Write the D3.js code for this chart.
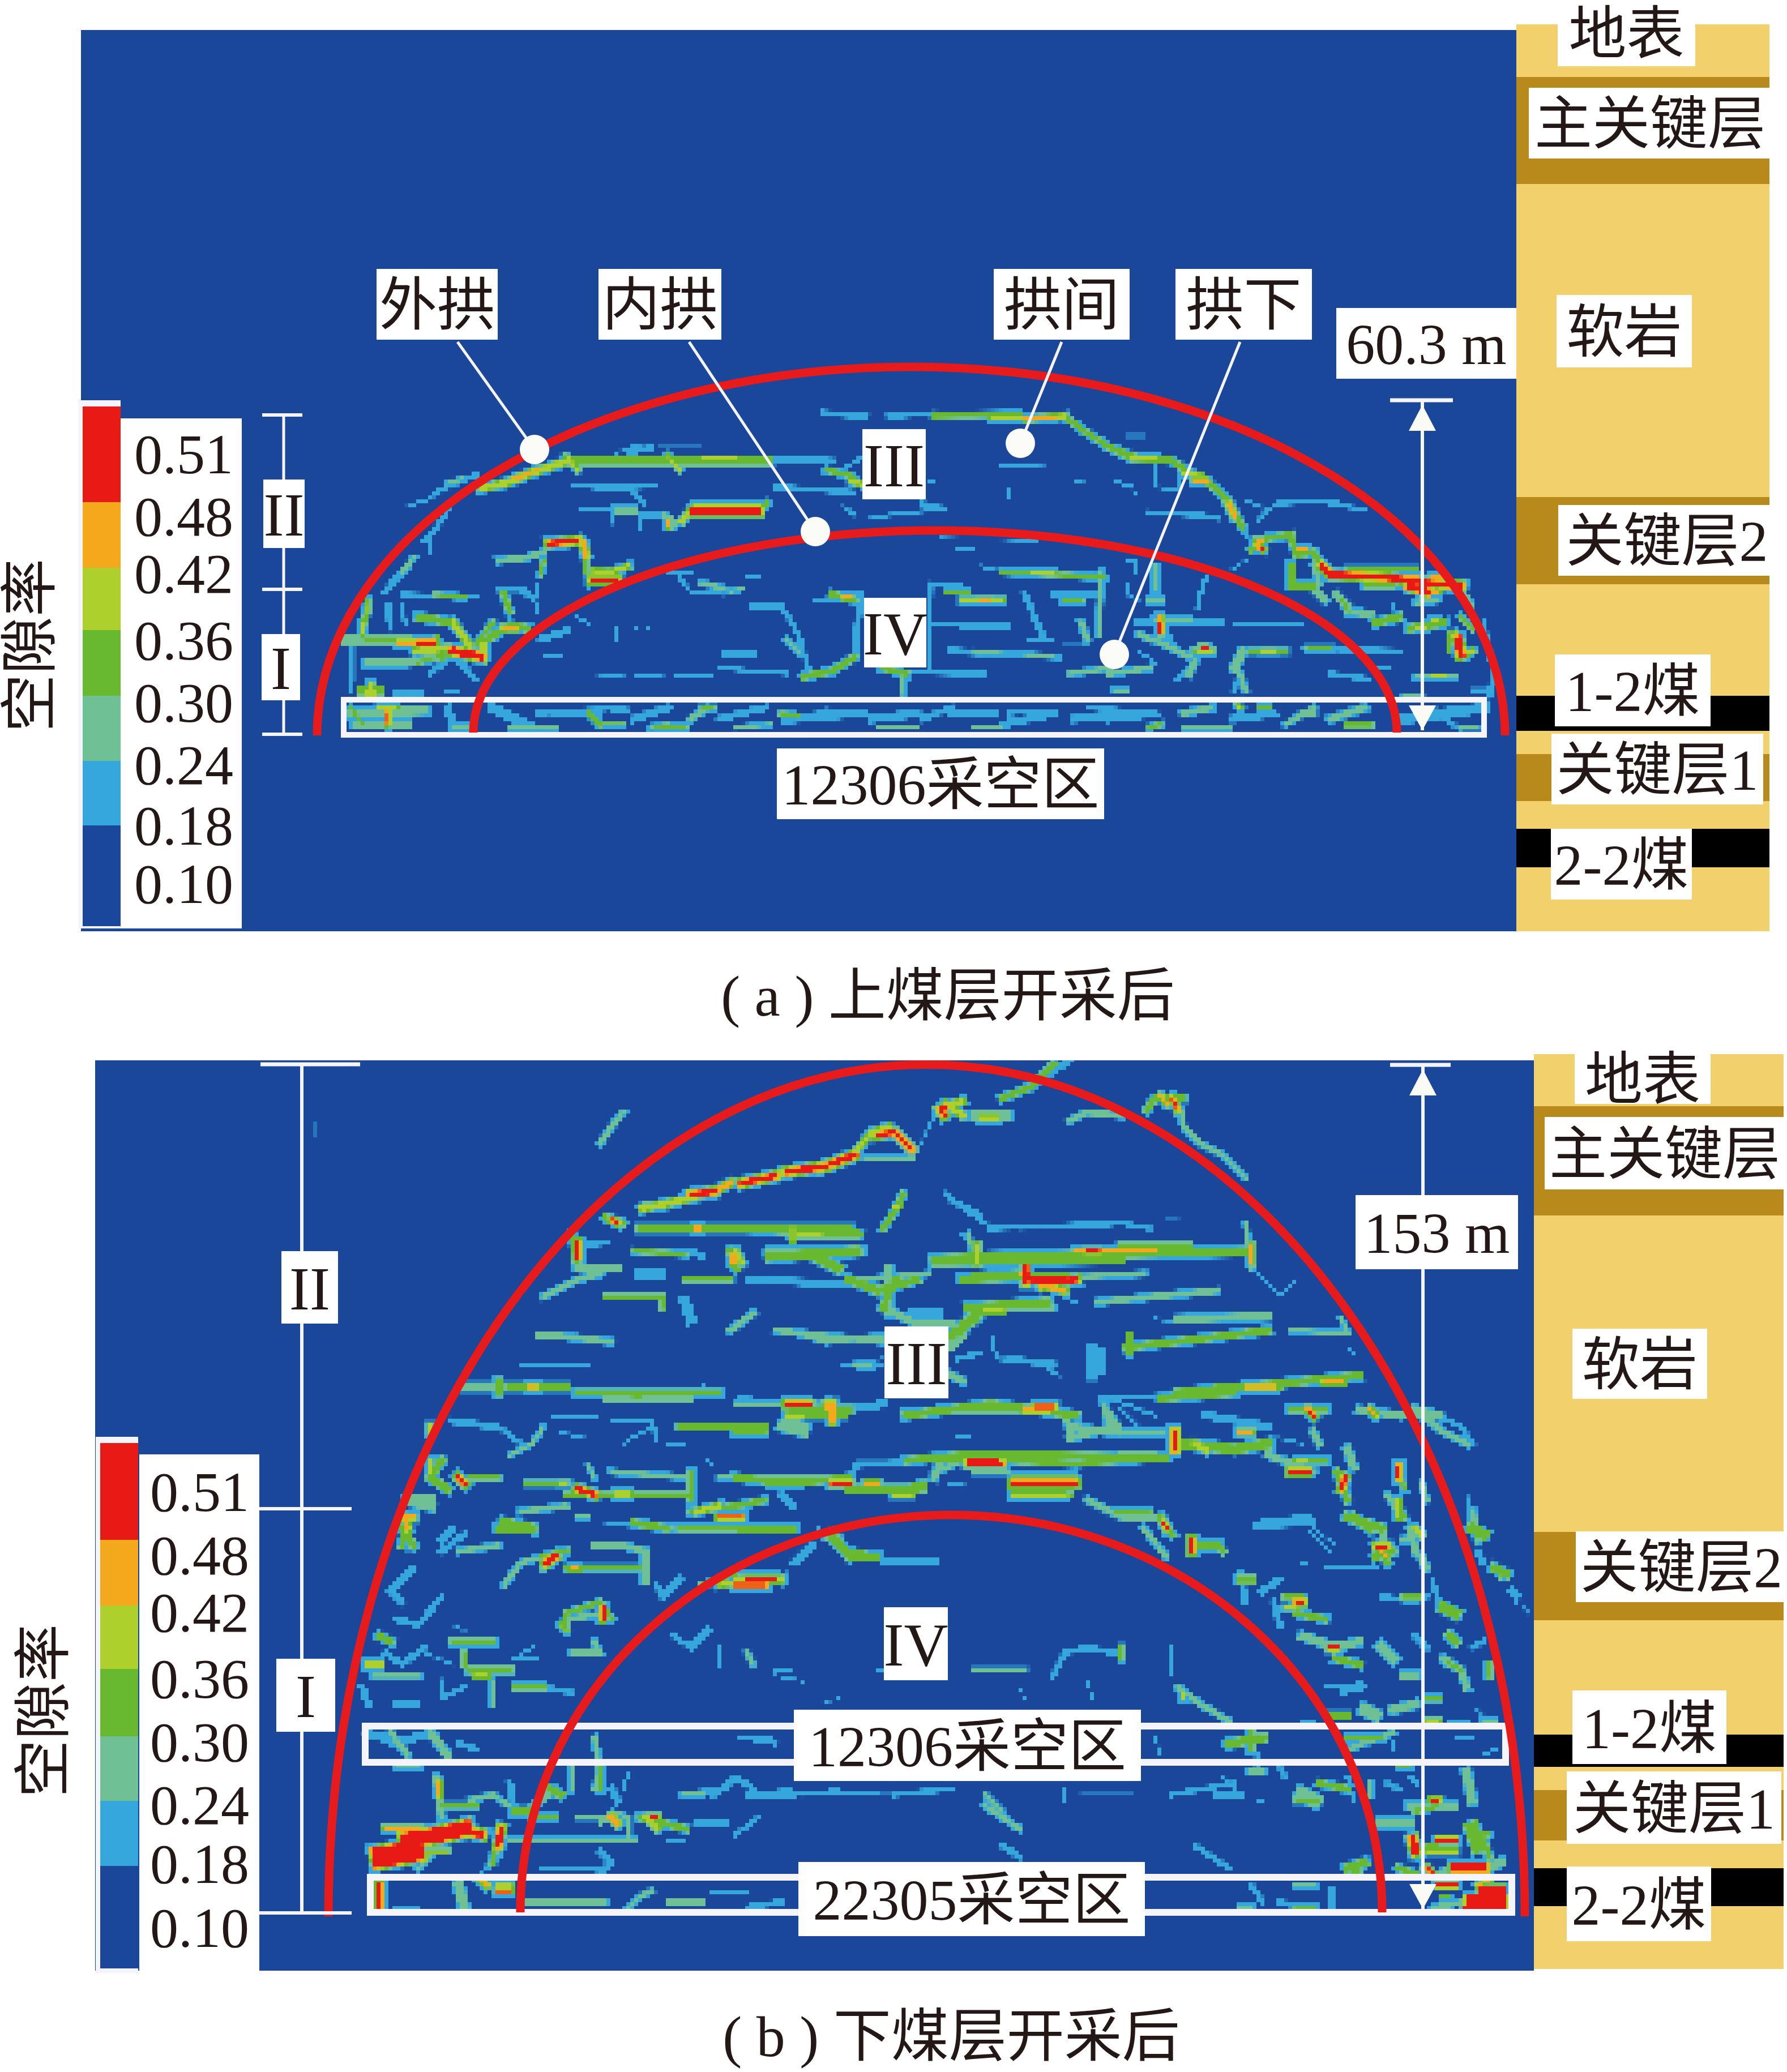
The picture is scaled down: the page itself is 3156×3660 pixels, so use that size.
<!DOCTYPE html>
<html>
<head>
<meta charset="utf-8">
<script src="https://d3js.org/d3.v7.min.js"></script>
<style>
  html, body { margin: 0; padding: 0; background: #fff; }
  svg { display: block; }
  text { font-family: "Liberation Serif", "Noto Sans CJK SC", serif; fill: #231815; }
</style>
</head>
<body>
<div id="chart"></div>
<script>
// Porosity classes, highest first
const porosityTicks = ["0.51", "0.48", "0.42", "0.36", "0.30", "0.24", "0.18", "0.10"];
const porosityColors = ["#e71a16", "#f4a91d", "#aed02c", "#69b930", "#70c095", "#35a7dd", "#35a7dd", "#1b479b"];
const legendColors = ["#e71a16", "#f4a91d", "#aed02c", "#69b930", "#70c095", "#35a7dd", "#1b479b"];

// Fractures: [porosity, aperture, x1, y1, x2, y2, ...], in model metres
const fracturesA = [
  [.42,1,85,86.2,89.5,85.3,94,83.5,100,81.5],[.48,.6,91,84.5,95,83],[.36,1.4,100,81.5,135.7,81.5],[.42,.5,100,80.5,102,83],[.42,.5,118,80.5,120,83],[.42,.4,124,81,130,81],
  [.24,1,136,81,147,81.5],[.36,.8,146,83,150,84,152,85.5],[.42,.8,150.5,85,152.2,85.5],[.18,1,137,86,151,87],[.18,.8,149.5,82.5,152,81],
  [.24,.8,77,87,80,85.5,84,84],[.30,.6,79,85.5,81.5,84.5],[.18,.6,72,89.5,76,88,79,85.5],[.24,.7,75,95.5,78,92,79,90],[.18,.4,76,94,76,98],[.30,.8,71,101,72,100,73,98.5],[.18,1.2,68,104.5,70.5,101.5],
  [.30,1,88,99,93,98.5,96,97.5],[.51,.8,97,96,102,95.5],[.48,.8,103,96,103.5,98],[.36,.8,103.5,98,103.5,101],[.18,.6,104,100,104,104],[.51,.7,104.5,102.5,109,102.5],[.42,.7,104.5,100.8,108,101,111,100],
  [.36,.6,96,99,95.5,101.5],[.18,.6,95,103,94.5,106,95,108],[.24,1,88,104,92,104,94,105.5],[.36,1,89,105,90,108],[.24,.6,71,105,84,105.5],[.36,.6,77,105,82,105.5],[.18,1.2,68.5,107,69,111],[.18,.8,71,107,71.5,110],
  [.36,.8,65,106,64,112],[.42,.5,65,107,65,108],[.42,.5,64,110,64,112],[.36,1.2,74,109,80,110],[.42,1,80,110,83,114],[.36,.8,84,114,87,110],[.30,1.6,61,113,66,113,72,113],[.36,.8,65,113,72,113],
  [.48,.7,70.5,113.5,73,113.5],[.51,.8,74,113.5,76.5,113.5],[.42,1,73.5,115,79,114.5],[.36,1.2,77,113,78,116],[.51,1.2,80,115,85,116],[.42,1,85.5,114,85.5,116],[.36,1.2,86,113,90,110.5,93,111],[.48,.7,89,111,91,111],
  [.24,1,95.5,113,100,111.5],[.30,1.4,65,117,72,117,78,116,80,115],[.36,.6,74,117,79,115.5],[.18,1,76,119,80,116,83,119],[.18,.8,81,116,84,120],[.24,1,62,115,62,120],[.18,1,62,120,62,122],
  [.36,1.5,64,122,67,122],[.42,.8,65.5,121,65.5,122],[.48,.5,65,122.5,66,122.5],[.24,1,70,122.5,74,122.5],[.18,.8,79,122,81,122],[.18,.7,96,116,99,116],[.18,.6,102,109,104,110],
  [.18,.5,104.5,119,110,119.5],[.18,.5,112,119.5,117,119.5],[.18,.5,119,119.5,126,119.5],[.18,.4,109,111,109,113],[.18,.4,112,111,112.3,111],[.18,.4,114.5,111,114.8,111],[.18,.4,98,86,98.3,86],
  [.18,.8,101,86,116,86],[.24,.4,105,86.5,115,86],[.18,.8,112,87,114,89],[.24,.8,103,90,112,90],[.30,1.4,109,90,112,90],[.18,.8,113,91,118,91],[.18,.5,108,91,108,92.5],[.18,.5,113,92,113,93.5],
  [.30,1,117,91,119,93,120,92],[.48,.5,118,92,118,93],[.51,1,122.5,90.4,134,90.4],[.42,.4,122.5,89.3,134,89.3],[.36,.8,134.5,90,135.5,89],[.42,.8,120.5,92,122,90],
  [.18,.6,109,80,113,78.5],[.18,.5,116.5,78.5,123.5,78.5],[.24,.8,111,80,115,79],
  [.18,1.2,145.3,73,153,73.5],[.24,.8,157,73.5,165,73],[.36,.8,165,73.5,180,73.2],[.42,.5,175,73.8,183,73.8],[.48,.5,181,74,188,73.5],[.36,.9,188.6,74,192,76.5,196,79,200,80.5],
  [.36,1,196,79,200,81,207,81.3,210,83.5,213,85,216,87.5,218,91,219.5,93],[.48,.6,211,84.8,213,84.8],[.48,.8,217,89,218,91],[.42,.6,200,81,204,81],[.42,.6,209,83.5,212,84],
  [.18,.6,204,82.5,204,86,208,86.5,208,84],[.18,.5,197.5,85,200,86,200.5,87.5],[.18,.7,199,77,202,77],[.18,.4,209,77,209.3,77],[.18,.5,211.5,77,212,77],[.18,1,203,90.5,212,91,215,91.5],[.18,.6,220,88.5,224,90,222,92],
  [.18,.8,225,89,235,88.5,240,90],[.24,.4,226,88.7,234,88.5],[.24,.5,235,89,241,90],[.18,.8,220,94,221,96],[.36,1,221,97,224,95,228,94.5],[.51,.5,222,96.5,223,97],[.48,.5,222,95.5,223,95.5],[.36,1,228,95,229,98,232,97.5,233,100],[.48,.5,229,97,230.5,97],
  [.36,1.2,228,100,228,103.5,232,103.5],[.30,.8,232,100,233,103],[.51,1,233.5,100,235,101.5,245,102,252,103,258,103.5],[.36,.6,238,100.5,250,100.5],[.51,1.2,249,103.5,252,104.5],[.42,.4,241,103.5,246,103.5],[.48,.6,248,102,250,102],[.48,.6,253,102,254.5,102],[.48,.5,253,104.5,254,104.5],
  [.30,1.2,232,104,234,106],[.30,1.2,236,105,238,107],[.36,.6,237,106,238,108],[.30,1.2,238,108,242,108.5],[.36,1.2,243,110,247,109],[.36,1.2,249,111,255,110],[.42,.5,250,111,252,111],[.42,.5,253,109.5,254,109.5],
  [.36,.8,258,109,260,111],[.51,1.2,257.5,113,258,115.5],[.48,.6,257,112,257.5,112.5],[.36,.7,256,112,256,115],[.42,.8,258,116,260,115],[.18,.6,246,107,247,110],[.30,.8,250,106.5,254,106],[.30,.8,258,104,260,107],[.18,1,262,110,263,115,264,120,263,123],[.24,.8,264,118,263,123],
  [.18,1,201,110,216,110],[.30,.8,204,109.5,210,109.5],[.48,.6,205,109,205,110],[.51,.6,205,110.5,205,111.5],[.18,.8,218,110.5,230,110.5],[.18,.4,199,99,200.5,99,200.5,101],[.30,1,204,100,204,104],[.18,.5,199,103,199,105,201,106],[.30,1.2,203,106,205,106],
  [.18,.9,213,102,212,105,211.5,107.5],[.18,.5,217,101,220,99],[.30,.9,201,112,206,114,210,116],[.24,1,206,112,208,115],[.36,1,211,115,214,115],[.51,.4,212.5,114.5,213,114.5],[.42,.5,211.5,115,214,115],
  [.30,1.4,218,118,219.5,115],[.36,.8,221,115,227,115],[.42,.5,223,115,225,115],[.24,.7,230,114.5,247,115],[.36,.6,231,114.5,235,114.5],[.24,.7,235,119,242,120],[.24,.8,243,118,245,118],[.30,.7,250,119.5,257,119.5],[.42,.4,253,119.5,255,119.5],
  [.18,.8,208,120,210,118],[.30,1,210,119,211,117],[.24,.8,218,122,219,119],[.30,.9,196,119,203,118],[.18,.6,201,115,204,117],
  [.18,1,133,107,138,107,141,112,143,119],[.30,.8,139,113,141,115],[.36,1,147,105,151,106],[.48,.5,149,105.5,150,105.5],[.18,.6,144,106,148,106],[.24,1,152,105,151,115],[.36,1,142,119.5,147,118.5,151,116],
  [.18,1.2,128,115.5,133,115.5],[.18,.8,127,118,139,119],[.24,.8,155.5,118.5,174,119],[.36,1,156,118,160,119],[.30,.7,159.5,120,159.5,122.5],[.18,.8,164,103,170,103],[.36,.5,167,104.5,171,104.5],[.42,.7,170,106,177,106],[.48,.4,173,106,175,106],[.18,.8,164.5,103,164,118],
  [.18,.7,164,110,178,110],[.24,.5,170,111,178,111],[.24,1,168,115,187,116],[.30,.4,172,115,186,116],[.18,.6,173,100,177,101],[.36,.7,177,101,187,101.5,195,102],[.42,.4,182,101,186,101],[.18,.5,169,97,172,97],[.18,.4,166,95,183,95.5],
  [.18,1.2,181,105,184,112],[.18,.8,186,105,195,105],[.36,.8,188,106,191,106],[.30,1,191,110,192,113],[.18,.8,182,113,186,113],[.30,.8,194.5,101,194,112],[.30,.8,189,119,196,118],[.18,.5,188,114,192,114],
  [.18,.7,120,102,122,104.5,128,105],[.30,.8,124,103,128,104],[.30,.6,129,104.5,131,104],[.24,.6,132,102,134,102],[.18,.4,118,101,122,101],[.18,.5,176.5,82.3,184.5,82],[.18,.7,149,89.5,151,91],[.18,.7,154,91.5,160,90.5,167,90],[.24,.8,163,89,167,90],
  [.18,.4,168,82,168.3,82],[.18,.4,174,86,174.3,86],[.18,.4,178,86,178,88],[.18,.4,166,86,167,86],[.18,.5,164,85,165,85],[.18,.4,190,85,193,85.5],[.18,.4,194,86,196,86],[.18,.5,197,85,199,86],[.18,.4,134.5,76,134.5,76.5],
  // 12306 goaf band
  [.30,1.6,62,126,75,125.5],[.30,1.6,63,128,72,128],[.36,.7,62,125,64,128],[.51,.5,68.5,126,68.5,127.5],[.42,.5,67,125,70,125],[.42,.4,68.5,127.5,68.5,128.5],[.18,1.5,79,125,80,128],[.30,1,80,128.5,83,128.5],[.18,2,87,125,93,128],[.30,.8,90,128.5,98,128.5],
  [.18,1,95,126,103,125.5],[.30,.6,98,126,102,126],[.36,.7,104,126,106,128],[.24,.8,107,125,111,125.5],[.30,.8,115,128.5,118,128],[.18,1,100,126,108,125],[.30,.5,103,126,106,126],[.36,.5,106,128,110,128],[.18,1.5,112,127,118,125],[.36,.8,116,128.5,120,128.5],
  [.30,1,122,127,125,125],[.36,.6,124,125,126,125],[.36,.8,118,128.5,121,128.5],[.24,1,127,127,135,125],[.30,.6,130,128.5,136,128],[.36,.7,138,126,141,126.5],[.18,1.8,139,127,150,126],[.24,.8,146,125.5,153,126],[.18,1.2,163,127,168,125],[.24,.8,168,126,176,126],
  [.18,1.5,177,128,186,126],[.24,.6,178,126,184,125.5],[.30,.6,172,128.5,177,128.5],[.18,1.5,190,127,200,126],[.24,.7,192,125,198,125.5],[.18,1.5,196,127,204,126],[.36,.7,203,128.5,205,128],[.30,.8,209,128.5,217,128.5],[.30,1,209,126,214,125],[.18,1.5,218,127,225,126],
  [.42,.5,218.5,124.5,219,125],[.36,.8,222.5,125,224,125],[.30,.8,227,128,232,125],[.36,.6,230,126,232,126],[.30,1.2,235,127,241,125],[.36,.9,238,128,242,128],[.42,.4,240,128,241,128],[.18,2,248,127,262,125],[.18,1,253,125,258,129],[.30,.7,258,128.5,261,128.5],
  [.30,.7,248,123,251,123],[.24,.8,260,122,263,122],[.30,.8,197,122,199,122],[.30,.9,219,119,220,122],[.18,1.6,154,127,162,126],[.30,.6,155,128.5,162,128.5]
];

const fracturesB = [
  [.30,.9,110,196.5,108,199,106,202],[.42,1,113.5,213.5,122.7,211.5],[.51,.9,122,211,126,210.5],[.48,.9,126,210.5,129,209],[.51,.9,131,209,137,207.7],[.42,.6,137,207.5,141,207],[.51,1,139,207,146,206],[.48,.8,145,206.5,148,205.5],[.51,1,147,205.5,151,204],
  [.42,.8,151,203.5,154,200,157,199],[.51,.8,155,200.5,158,200,161,203],[.30,.8,153,204.5,161,204.5],[.42,.7,114,213,117,213],[.18,.5,162,203.5,165.5,196],[.51,.8,166.3,196,166.8,197],[.42,1,167,195,170,197],[.51,.7,166,196,167,195.5],[.42,.9,168,195,170,194.5],
  [.30,1.6,172,197,178,197],[.42,.9,173.5,197.5,176,197.5],[.36,1,177,194,182,192,186,188],[.24,.8,185,190,188,188,190,186],[.18,.8,188,187,190,186],[.30,1,189,198,192,196.5,198,197],[.36,1,202.5,196,204,194,209,194],[.51,.5,207,194,208,196],[.48,.5,205,193.5,206,195],
  [.30,.8,208.5,196,209,199,212,202,216,204,220,208],[.24,.7,167,211,171,214,174,216],[.18,.9,175,217,198,216,203,217],[.24,.4,180,217,196,216.5],[.18,.5,206,215.5,208,215.5],[.30,.7,171,218,172,222],
  [.36,1.4,165,222.5,175,222,198,221.5,220,221],[.48,.5,190,221,204,221],[.51,.5,192,221,194,221],[.30,.7,220,216,221,224],[.48,.5,221,220,221,223],[.36,1.2,165,223,198,222.5],[.36,1.2,170,226,182,225.5],[.51,.9,181,225,182,226,186,226.5,190,226],[.48,.8,184,227,188,228],[.24,.9,190,225.5,202,225],
  [.30,1,194,230,204,229,215,228],[.36,1.4,171,231,185,230],[.42,.9,174,231.5,177,231.5],[.30,1.2,172,231,170,236,168,238],[.30,1.3,208,233,224,232.5],[.18,.6,204,233,208,233.5],[.36,1.1,199,238,212,236.5,224,235],[.36,1,199.5,236,199.5,239],[.30,.7,228,235,238,235.5,237,233],
  [.18,.6,222,225,226,229,229,226],[.18,.7,175,236,176,240,184,241,187,243],[.24,.9,178,240,186,241],[.24,1.6,193,238,193,243],[.18,.6,238,238,239,239],[.36,1.2,208,246,225,244.5,240,243],[.42,.6,215,245,226,245],[.51,.4,220,245,225,245],[.48,.9,234,244,237,244],[.36,1.1,205,247,218,246],
  [.36,1.2,160,250,175,248,190,250],[.48,.9,181,249,185,249],[.51,.7,183,248.5,186,248.5],[.18,.8,194,247,206,247],[.30,1.3,189,254,197,252],[.30,1,195,248,196,253],[.18,.8,198,249,201,252],[.36,1,228,249,234,249],[.51,.6,231,249,232,250],[.30,1.2,240,249,247,250],[.48,.6,242,249,243,250],
  [.30,1,245,250,251,250,255,253,259,255],[.30,1.4,250,249,254,250],[.36,1.6,208,255,218,256,224,255],[.51,1,207.5,253,207.5,256],[.48,.6,219,253,221,253],[.42,1,211,255,213,256],[.24,1.2,213,250,224,252],[.18,.6,226,254,230,255],[.30,1.2,232,253,233,255],
  [.36,1.1,160,258,170,257,185,257,206,257.5],[.51,.6,171,258,176,258],[.42,.4,198,257,204,257],[.30,1.2,224,257,232,260],[.36,1,229,258,234,258],[.51,.8,228,260,231,260],[.42,.6,229,258,231,258],[.30,1.4,238,256,239,259],[.51,.8,237.5,261,237,263],[.36,1,236,260,238,265],
  [.51,.8,179,262,190,262],[.42,.5,179,264,189,264],[.36,.5,179,260.5,190,260.5],[.36,.9,160,263,163,262],[.18,.6,168,262,170,262],[.30,1,192,265,198,268,204,268],[.36,.7,197,267,203,267],[.30,.9,202,270,206,275],[.51,.5,205.5,269,206,270],[.36,1,205,268,207,271],[.36,1.4,211,273,215,273],[.51,.8,210.5,272,210.5,274],
  [.18,1.2,223,269,231,268],[.18,.5,231,270,235,274],[.30,1,244,270,245,275],[.36,1,243,273,245,276],[.48,.5,244,274,245,275],[.30,1,245,264,247,267],[.36,.8,247,266,248,268],[.36,.7,247,259,248,263],[.51,.6,247,259,247,261],[.42,.8,247,265,247,268],[.36,1.4,239,268,242,270],
  [.30,1.2,249,270,250,274],[.30,.8,251,262,252,265],[.30,1.2,260,267,261,272],[.18,.6,259,264,260,268],[.30,.6,265,277,265,279],[.18,.6,268,281,268,283],[.24,1,225,283,226,287],[.24,1,219,278,220,283],[.18,.6,236,277,243,277],[.18,.5,230,276,231,276],[.24,.8,252,249,258,252,260,255],
  [.36,1,107,215,110,216],[.51,.6,108,215.5,109,216],[.36,1.2,113,217,130,217,150,217],[.51,.5,123,217,123.5,217],[.42,.5,125,217,135,217],[.36,1.4,140,218,151,218],[.42,.5,141,218,145,218],[.51,.8,102,219.5,102,222],[.36,1,101,218,102,223],[.24,.8,102,220,107,219.5],
  [.36,.7,112,221,121,221.5],[.24,1,122,221,124,222],[.36,1.2,129,221,130,224],[.51,.6,129.5,222,129.5,223],[.36,1.6,136,222,151,221],[.30,1.3,102,224,109,224],[.24,1.5,113,225,117,225],[.36,.8,121,226,129,226],[.24,.9,133,226,145,226.5],[.36,1.2,150,226,155,228,162,226],
  [.30,1,96,229,102,226,106,225],[.36,.7,107,229,117,229,117,231],[.24,1.8,121,230,122,233],[.30,1,129,235,133,232],[.30,1.2,157,224,157,232],[.24,.9,132,226,148,227,152,226],[.36,1.4,150,226,155,228],[.36,1.2,158,226,156,231],[.30,.8,152,226,164,225],
  [.36,.9,130,217,138,217.5,152,218],[.42,.7,140,217,140,219],[.42,.5,130,217,132,217],[.30,1.5,136,221,152,221],[.36,1.6,144,222,148,224],[.42,.8,130,221,131,223],[.36,.9,156,217,158,214,159.5,211],[.42,.4,158,213,159,213],[.24,.8,168,212,172,214,173,215],
  [.18,.6,170,218,172,221],[.30,1.2,165,223,172,222],[.42,1,172.5,220,172.5,223],[.36,1,198,220,210,220],[.36,1.2,172,225.5,181,225],[.51,.9,181.2,224,181.2,226.5],[.51,1.2,184,226,188,226],[.42,.7,184,227.5,190,226],[.30,.8,191,225.5,202,225],
  [.30,1,171,231,186,231],[.36,1.4,170,234,173,232],[.36,1.6,168,236,172,233],[.30,1.3,158,232,162,234,168,234],[.24,1.4,161,232,166,232],[.18,.6,188,229,190,230],[.30,.8,139,235,146,237,156,236],[.24,2,194,239,194,242],[.24,.7,149,241,156,241,152,242],[.30,1.2,168,243,170,244],[.18,1,169,240,173,239],
  [.30,1,130,248,138,248],[.51,.8,139,248,142,248],[.42,.6,139,250,142,250],[.48,1,147,248,147,251],[.36,1,142,250,149,250],[.24,1.2,150,249,156,248],[.30,1.6,138,252,142,253],[.42,.6,131,252,134,252],[.36,.9,130,253,135,253],[.18,.6,159,249,165,249],[.36,1,166,249,186,249],
  [.30,1,188,250,189,253],[.30,1.2,189,252,196,253,205,253],[.30,1.2,196,250,198,253],[.18,.7,196,247,204,250],[.36,.8,205,247,210,246],[.18,.8,169,253.5,171,253.5],[.18,.5,174,252,175,252],[.24,.8,152,258.5,161,258.5],[.30,1.2,166,258,165,261],[.36,.9,166,258,178,258,190,258.5,205,257.5],[.51,.7,171,258.5,177,258.5],[.30,.9,172,260,178,260],
  [.36,1.1,130,261,140,262,150,261],[.51,.7,147,262,150,262],[.36,1.4,150,263,162,263],[.48,.6,153,262,155,262],[.42,.7,158,264,161,264],[.24,1,138,264,140,266],[.18,.9,168,262,170,262],[.51,.9,179,262,189,262],[.42,.8,179,264,188,264],
  [.36,.8,130,266,135,265],[.36,1.3,131,270,140,270],[.42,1,130,279,138,279],[.51,.7,130,280,135,280],[.36,1.3,147,271,150,275],[.36,.9,150,274,155,275],[.24,.9,156,276,165,276],[.24,.8,141,276,144,273],
  [.30,1.8,72,265,76,266],[.36,1,72,268,71,273],[.48,.8,71.5,268,72,270],[.24,.9,78,274,82,271],[.30,.9,81,274,88,273],[.36,1.6,89,269,94,270],[.30,.9,89,280,92,276,96,275],[.51,1,96.5,276,98,275],[.42,.5,96,277,96,275],[.36,.9,96,275,100,274],[.48,.7,101,277,102,277],[.36,.8,100,277,113,277],
  [.30,1.1,105,273,110,273,114,274],[.30,1.4,114,275,114,279],[.24,.9,116,280,117,282,120,279],[.36,.8,124,280,130,278],[.42,.7,127,280,137,279],[.51,.6,132,279,137,279],[.36,.4,130,278,137,278],[.24,.5,138,280,139,278],[.24,.9,140,276,143,273],[.36,1.1,147,272,150,275,155,275],
  [.24,.9,71,283,69,281,73,277],[.24,.9,70,286,74,287,78,282],[.36,1.2,67,289,69,290],[.24,.9,68,292,71,294,75,291],[.42,1.2,65,294,67,294],[.30,.9,66,296,74,296],[.24,1,64,298,65,301],[.36,.9,80,290,87,290],[.36,.8,82,292,82,294],[.18,.5,75,292,80,294],[.24,.5,87,290,87,291],
  [.36,1.2,83,295,90,295],[.42,.7,84,296,86,296],[.30,.8,87,297,87,301],[.24,.8,78,297,78,299],[.18,.6,91,293,94,291],[.24,.6,91,293,95,293],[.36,.8,100,288,100,285,106,283,108,286],[.51,.6,106.5,284,106.5,286],[.30,.9,100,286,107,285],[.42,.4,99,287,100,288],
  [.30,1,101,292,106,292,105,290],[.36,.9,91,298,96,298],[.24,.7,96,298,101,299],[.18,.5,80,287,82,288],[.24,.6,70,301,74,301],[.24,.7,78,300,82,298],[.24,1.3,65,306,70,308,76,306],[.30,1,69,306,72,310],[.30,1.4,76,306,79,310],[.24,.8,81,308,84,309],[.30,.7,70,312,74,312],
  [.30,1.1,77,314,78,321],[.48,.7,77.5,315,77.5,317],[.36,.8,78,319,84,319],[.24,1,78,320,77,324],[.30,.8,83,318,87,317,90,319],[.24,1,90,315,91,320],[.36,1.4,91,320,93,320],
  [.51,3.5,67.5,328,73,327],[.51,2.5,72,325,78,324,82,323],[.51,1.2,80,323,85,324],[.48,.5,68,323,74,323],[.42,.5,74,327,79,327],[.30,.8,74,330,76,328],[.51,.9,88.5,323,88,326],[.36,.9,87,329,88,324],
  [.30,.8,90,325,112,325],[.36,.8,94,321,98,321],[.30,.7,102,321,106,321],[.48,1,108,321,109,322],[.30,.7,106,322,108,320,111,321,111,325],[.36,1,113,321,121,323],[.42,.8,114,321,116,323],[.51,.5,115,321,116,321],[.24,.5,118,325,121,325],[.24,.9,123,322,128,322],[.24,.6,130,324,134,321],
  [.24,1,106,327,108,329,106,331],[.24,.7,96,330,107,330],[.24,1,86,330,88,328],[.30,1.2,93,320,98,316],[.36,1.2,97,316,99,317],[.30,1,101,316,101,312],[.30,.9,105,307,106,313,105,316],[.36,1,106,312,106,316],[.18,.7,110,316,111,313],[.24,1.2,108,316,109,318],[.24,.9,126,317,130,314,133,316],
  [.30,.8,121,317,124,317],[.24,.6,138,316,142,317],[.18,.6,143,317,148,316],[.18,.5,148,317,160,317],[.24,.7,131,307,136,307],[.24,.8,119,289,122,291,125,288],[.24,.6,127,291,127,294],[.30,.9,132,292,133,294],[.18,.5,137,295,140,295],[.18,.5,155,295,158,295],[.18,.4,145,301,148,300],
  [.51,1,67,333,67,337],[.18,.4,68,334,72,334],[.30,1.8,81,333,82,337],[.48,.8,85,332,86,333],[.42,1,88,333,90,333],[.51,.5,88,334,90,334],[.24,.6,70,337,74,337],[.36,.5,93,336,107,336],[.30,.7,111,337,113,335,115,334],[.30,.8,118,336,124,336],[.18,.4,118,334,121,334],[.18,.8,126,334,132,334],[.24,.9,132,337,138,336],
  [.24,.8,186,296,188,292,192,291,197,292],[.36,.8,198,291,198,293],[.30,.7,172,295,181,295],[.18,.4,207,291,207,296],[.30,.9,208,298,212,301,217,304],[.42,.5,209,299,209,300],[.18,.5,137,296,142,297],[.18,.4,180,298,181,300],[.18,.4,192,297,193,300],[.18,.3,166,300,166,301],
  [.24,.9,177,326,180,328],[.30,.9,174,319,180,323],[.24,.8,211,326,217,330],[.24,.7,120,317,128,316],[.24,.7,132,317,140,317],[.18,.6,142,317,155,317],[.24,.7,158,317,168,316],[.30,.7,174,317,177,320],[.18,.5,191,317,200,317],[.24,.7,207,317,218,315],[.24,.5,188,316,188,318],
  [.36,1.1,218,308,222,307],[.30,.9,238,309,246,306],[.18,.5,257,307,259,307],[.24,.6,132,307,137,308],[.18,.5,204,307,205,310],
  [.18,1.2,222,269.5,232,269],[.18,.5,232,270,236,273],[.36,1.4,238,268,244,270],[.42,.9,243,273,245,273],[.51,.4,243,273.3,245,273.3],[.36,1.2,243,275,246,274],[.30,1.2,248,272,251,271],[.42,.9,250,270,251,271],[.36,.9,215,273,216,274],[.36,1.3,219,279,221,279],[.24,1.1,223,281,226,279],
  [.51,.8,229,283,230,283],[.36,.9,227,282,230,282],[.42,.5,227,284,229,284],[.36,1,229,285,234,286],[.30,1.4,230,289,236,291,240,290],[.51,.7,235,291,236,291],[.36,1.1,236,293,240,294],[.18,1,240,297,241,298,237,299],[.18,.6,234,277,243,277],[.30,1.8,244,291,246,293],[.30,1.4,248,296,250,296],
  [.24,.8,244,282,250,283,252,282],[.36,.9,248,282,251,282],[.36,1.8,255,284,257,285],[.36,1.4,256,289,257,290],[.24,.7,253,279,254,283],[.30,1.2,251,275,252,277],[.36,1.8,260,270,262,271],[.24,1,261,274,262,276],[.36,1.4,264,277,266,278],[.24,.9,267,281,268,282],[.18,.5,269,284,270,285],[.18,.5,259,287,261,287],
  [.18,1,260,291,262,290],[.30,1.2,255,293,258,295,259,298],[.36,.7,256,294,258,295],[.36,.9,263,294,263,296],[.24,1,250,289,252,291],[.36,1,252,300,254,300],[.30,1.5,246,302,250,301],[.30,2,241,302,243,303],[.36,1,235,303,238,303],[.18,.5,234,298,240,298],[.42,.7,252,304,254,304],[.24,.7,256,304,259,304],[.30,.7,262,304,264,304],
  [.18,.5,261,302,262,303],[.18,.5,230,304,232,304],[.36,1.4,217,308,223,307],[.36,1,221,306,221,309],[.36,.8,238,307,244,307],[.18,.7,244,307,246,306],[.24,.9,246,308,246,309],[.18,.7,258,307,260,307],[.18,.7,262,310,264,309],[.24,.6,222,310,222,312],
  [.30,1.2,221,313,223,313],[.18,1,226,312,227,314],[.36,.6,247,312,249,312],[.18,1,249,314,250,315],[.30,1.6,259,313,260,318],[.18,1,245,315,247,316],[.24,1,215,317,219,317],[.24,.6,216,314,218,316],[.18,.6,222,318,223,318],[.30,2.4,230,317,232,318],[.36,.8,229,318,233,318],[.36,1,233,315,238,316],
  [.24,.6,239,318,238,314],[.30,1,242,315,242,317],[.30,1.2,249,319,257,319],[.36,.8,250,320,254,319],[.51,.5,253,318,254,318],[.30,1.6,244,322,249,322],[.36,2.4,260,323,261,326],[.36,1,262,325,263,328],[.42,.4,262,324,263,324],[.51,1.2,249.5,325,250,327],[.51,.6,254,325,257,325],[.42,.7,252,327,257,327],[.36,.7,252,326,254,326],
  [.51,1.4,257,330,262,330],[.48,.5,258,331,262,331],[.30,1.6,262,330,265,329],[.36,1.4,238,330,241,329],[.42,.4,239,331,240,331],[.51,.5,252,330,253,331],[.36,1,247,330,250,331],[.30,.8,254,331,256,330],[.24,.7,250,328,251,329],[.30,1,229,333,232,333],[.24,.8,221,333,223,336],[.24,.9,226,336,230,337],[.36,.9,229,337,232,337],
  [.24,1,235,334,235,337],[.30,.8,219,337,221,337],[.51,.6,254,333,257,333],[.36,.5,254.5,335,256,335],[.30,.8,253,337,258,336],[.42,.4,254,337.5,256,337.5],[.48,.4,261,333,263,332],[.51,2.2,260,336,265,336],[.51,1.4,262,334,265,334],[.51,.9,259,337,265,337],
  [.18,.3,54.5,197,54.5,205],[.18,.3,55.5,198,55.5,201],
  [.30,1.5,82,245,90,245,100,245],[.36,1.2,88,244,88,246],[.48,.7,93.5,245,94.5,245],[.36,1,90,245,100,245],[.36,1,102,246,115,246,127,246],[.30,1,107,247,122,247],[.42,.4,112,247,113,247],[.24,.5,124,245,124,247],[.24,.8,131,247,137,248],[.36,1.4,140,249,150,249],[.51,.6,140,248,143,248],[.48,.9,146,248,147,250],[.30,1.6,139,251,142,252],
  [.18,.6,92,241,104,241],[.30,1,95,236,99,236,108,237],[.30,.9,137,235,146,236,156,237],[.18,.6,149,241,156,240],[.30,.5,151,241,154,241],[.24,1,80,251,87,252],[.18,.8,98,250,105,250],[.24,.7,108,251,115,251,116,254],[.36,1,120,252,135,252],[.42,.4,132,252,135,252],[.24,.7,88,252,92,255],[.30,.7,90,257,94,255,96,252],
  [.18,.6,99,253,103,254],[.18,.6,110,255,115,252],[.18,.5,118,255,121,255],[.18,.8,125,258,126,259],[.24,.6,151,259,161,258],[.30,1,165,260,170,258],[.42,.9,76,252,76,253],[.36,1.2,76,261,78,258],[.42,.7,76,258,76,260],[.36,1.3,76,261,79,263],[.51,.8,81,261,82,262],[.36,.8,83,261,88,261],[.36,.8,93,262,100,262],[.42,.5,99,262,100,262],
  [.51,.8,102,263,105,264],[.42,1.2,109,264,111,264],[.36,.7,100,264,122,264],[.30,.8,108,260,122,261],[.36,.9,122,260,122,265],[.30,.7,104,259,105,261],[.30,.7,127,261,150,261],[.36,1.2,136,262,141,262],[.36,1,151,263,163,263],[.30,.9,92,267,100,266],[.36,.9,122,267,130,266,135,265],[.42,.9,123,267,127,266],[.51,.5,127,268,131,268],
  [.36,1.2,88,270,94,270],[.30,.6,102,268,104,268],[.18,.5,107,269,112,269],[.36,1.1,112,269,118,270],[.36,1,120,270,130,270,139,270],[.30,1.4,145,271,148,272],[.24,1,78,272,80,270],[.30,1.6,72,265,76,265],[.48,.8,71,268,73,268],[.36,1.2,71,270,73,273]
];

// Arches: [left, right, crown, base], in model metres
const archesA = [[56, 265.8, 64.8, 129.9], [83.6, 246.7, 93.7, 129.4]];
const archesB = [[58, 269.3, 188, 338.5], [91.9, 244.1, 267.6, 337.8]];

// Rock strata beside each panel: [kind, top, bottom]
const strataA = [["key", 13.6, 32.5], ["key", 87.8, 103.2], ["coal", 122.9, 129.1], ["key", 133.2, 141.5], ["coal", 146.4, 153.2]];
const strataB = [["key", 195.4, 214.7], ["key", 270.6, 286.2], ["coal", 306.4, 312.1], ["key", 316.2, 325.1], ["coal", 330, 336.7]];
const strataNames = ["地表", "主关键层", "软岩", "关键层2", "1-2煤", "关键层1", "2-2煤"];

// Goaf bands and zone names
const goafNames = ["12306采空区", "22305采空区"];
const zoneNames = ["I", "II", "III", "IV"];
const pointNames = ["外拱", "内拱", "拱间", "拱下"];
const heightLabels = ["60.3 m", "153 m"];
const captions = ["( a ) 上煤层开采后", "( b ) 下煤层开采后"];
const axisName = "空隙率";

const W = 3156, H = 3660;
const x = d3.scaleLinear().domain([0, 315.6]).range([0, W]);
const y = d3.scaleLinear().domain([0, 366]).range([0, H]);
const size = v => x(v) - x(0);
const levelOrder = porosityTicks.slice(0, -1).reverse().map(Number); // 0.18 .. 0.51
const color = d3.scaleOrdinal().domain(porosityTicks.map(Number)).range(porosityColors);
const BLUE = "#1b479b", TAN = "#f2d06c", KEY = "#b78a1b", ARCH = "#e71a1c";
const FS = 102;

const svg = d3.select("#chart").append("svg").attr("width", W).attr("height", H);
svg.append("rect").attr("width", W).attr("height", H).attr("fill", "#fff");

// the numerical model has coarse square cells, so the fracture strokes get sampled on a grid
const defs = svg.append("defs");
const pix = defs.append("filter").attr("id", "cells")
  .attr("filterUnits", "userSpaceOnUse").attr("x", 0).attr("y", 0).attr("width", W).attr("height", H)
  .attr("color-interpolation-filters", "sRGB");
pix.append("feFlood").attr("x", 3).attr("y", 3).attr("width", 1).attr("height", 1);
pix.append("feComposite").attr("x", 0).attr("y", 0).attr("width", 7).attr("height", 7);
pix.append("feTile").attr("result", "grid");
pix.append("feComposite").attr("in", "SourceGraphic").attr("in2", "grid").attr("operator", "in");
pix.append("feMorphology").attr("operator", "dilate").attr("radius", 3);

function box(g, x0, x1, y0, y1, txt, fs) {
  g.append("rect").attr("x", x0).attr("y", y0).attr("width", x1 - x0).attr("height", y1 - y0).attr("fill", "#fff");
  if (txt) g.append("text").attr("x", (x0 + x1) / 2).attr("y", (y0 + y1) / 2).attr("dy", "0.36em")
    .attr("text-anchor", "middle").attr("font-size", fs || FS).text(txt);
}

function whiteLine(g, x1, y1, x2, y2, w) {
  g.append("line").attr("x1", x1).attr("y1", y1).attr("x2", x2).attr("y2", y2)
    .attr("stroke", "#f4f4fa").attr("stroke-width", w || 6);
}

const line = d3.line().x(d => x(d[0])).y(d => y(d[1]));

function drawFractures(g, id, frac, bx0, bx1, by0, by1) {
  defs.append("clipPath").attr("id", id).append("rect")
    .attr("x", bx0).attr("y", by0).attr("width", bx1 - bx0).attr("height", by1 - by0);
  const layers = [];
  levelOrder.forEach((lv, r) => {
    frac.forEach(f => {
      const rank = levelOrder.indexOf(f[0]);
      if (rank < r) return;
      const pts = d3.range(2, f.length, 2).map(i => [f[i], f[i + 1]]);
      layers.push({ lv, pts, w: size(f[1]) + 3 * (rank - r) });
    });
  });
  g.append("g").attr("clip-path", `url(#${id})`).append("g").attr("filter", "url(#cells)")
    .selectAll("path").data(layers).join("path")
    .attr("d", d => line(d.pts)).attr("fill", "none").attr("stroke-linecap", "square")
    .attr("stroke", d => color(d.lv)).attr("stroke-width", d => d.w);
}

function drawArches(g, arches) {
  g.selectAll(null).data(arches).join("path")
    .attr("d", a => `M${x(a[0])},${y(a[3])}A${size(a[1] - a[0]) / 2},${y(a[3]) - y(a[2])} 0 0 1 ${x(a[1])},${y(a[3])}`)
    .attr("fill", "none").attr("stroke", ARCH).attr("stroke-width", 15);
}

function drawStrata(g, x0, x1, top, bottom, rows) {
  g.append("rect").attr("x", x0).attr("y", top).attr("width", x1 - x0).attr("height", bottom - top).attr("fill", TAN);
  g.selectAll(null).data(rows).join("rect")
    .attr("x", x0).attr("width", x1 - x0)
    .attr("y", d => y(d[1])).attr("height", d => y(d[2]) - y(d[1]))
    .attr("fill", d => d[0] === "coal" ? "#000" : KEY);
}

function drawLegend(g, barX, edges, boxX0, boxX1, boxY0, boxY1, textX, centers) {
  g.append("rect").attr("x", barX - 8).attr("y", edges[0] - 11).attr("width", 75).attr("height", boxY1 - edges[0] + 11).attr("fill", "#f4f4fa");
  box(g, boxX0, boxX1, boxY0, boxY1);
  g.selectAll(null).data(legendColors).join("rect")
    .attr("x", barX).attr("width", 67)
    .attr("y", (d, i) => edges[i]).attr("height", (d, i) => edges[i + 1] - edges[i])
    .attr("fill", d => d);
  g.selectAll(null).data(porosityTicks).join("text")
    .attr("x", textX).attr("y", (d, i) => centers[i]).attr("dy", "0.34em")
    .attr("font-size", 100).text(d => d);
}

function drawHeightArrow(g, ax, tick0, tick1, top, bottom) {
  whiteLine(g, tick0, top, tick1, top, 7);
  whiteLine(g, ax, top, ax, bottom, 6);
  const head = (tipY, baseY) => `M${ax},${tipY}L${ax - 24},${baseY}L${ax + 24},${baseY}Z`;
  g.append("path").attr("d", head(top + 8, top + 54)).attr("fill", "#fbfbf5");
  g.append("path").attr("d", head(bottom, bottom - 44)).attr("fill", "#fbfbf5");
}

function axisLabel(g, cx, cy) {
  g.append("text").attr("transform", `translate(${cx},${cy}) rotate(-90)`).attr("dy", "0.36em")
    .attr("text-anchor", "middle").attr("font-size", FS).text(axisName);
}

function captionText(g, cx, cy, t) {
  g.append("text").attr("x", cx).attr("y", cy).attr("dy", "0.36em")
    .attr("text-anchor", "middle").attr("font-size", FS).text(t);
}

// ---------- panel (a) ----------
const a = svg.append("g");
a.append("rect").attr("x", 143).attr("y", 53).attr("width", 2535).attr("height", 1592).attr("fill", BLUE);
drawFractures(a, "clipA", fracturesA, 143, 2678, 53, 1645);

// goaf band
a.append("rect").attr("x", 607).attr("y", 1236).attr("width", 2014).attr("height", 62)
  .attr("fill", "none").attr("stroke", "#f4f4fa").attr("stroke-width", 10);
drawArches(a, archesA);
box(a, 1372, 1950, 1322, 1447, goafNames[0]);

drawStrata(a, 2678, 3125, 43, 1645, strataA);
[[0, 2751, 2994, 0, 117], [1, 2700, 3128, 155, 280], [2, 2749, 2988, 521, 649], [3, 2752, 3136, 892, 1017],
 [4, 2746, 3021, 1156, 1283], [5, 2740, 3114, 1296, 1421], [6, 2739, 2988, 1464, 1589]]
  .forEach(r => box(a, r[1], r[2], r[3], r[4], strataNames[r[0]]));

// pointers from the names to the white dots
[[0, 665, 879, 808, 944, 794], [1, 1057, 1274, 1217, 1440, 939], [2, 1755, 1995, 1875, 1802, 783], [3, 2076, 2317, 2190, 1968, 1156]]
  .forEach(p => {
    whiteLine(a, p[3], 604, p[4], p[5], 5);
    a.append("circle").attr("cx", p[4]).attr("cy", p[5]).attr("r", 26).attr("fill", "#fbfbf8");
    box(a, p[1], p[2], 475, 600, pointNames[p[0]]);
  });

whiteLine(a, 463, 733, 534, 733, 6);
whiteLine(a, 463, 1041, 534, 1041, 6);
whiteLine(a, 463, 1297, 534, 1297, 6);
whiteLine(a, 501, 733, 501, 1297, 5);
box(a, 465, 538, 847, 968, zoneNames[1], 108);
box(a, 462, 530, 1120, 1237, zoneNames[0], 108);
box(a, 1523, 1635, 758, 882, zoneNames[2], 108);
box(a, 1526, 1636, 1056, 1179, zoneNames[3], 108);

drawHeightArrow(a, 2512, 2455, 2566, 707, 1290);
box(a, 2360, 2678, 544, 669, heightLabels[0]);

drawLegend(a, 146, [718, 887, 1003, 1113, 1229, 1344, 1458, 1636], 213, 427, 739, 1640, 237,
  [802, 912, 1013, 1131, 1241, 1351, 1458, 1561]);
axisLabel(a, 51, 1140);
captionText(a, 1674, 1757, captions[0]);

// ---------- panel (b) ----------
const b = svg.append("g");
b.append("rect").attr("x", 168).attr("y", 1873).attr("width", 2541).attr("height", 1608).attr("fill", BLUE);
drawFractures(b, "clipB", fracturesB, 168, 2709, 1873, 3481);

b.append("rect").attr("x", 645).attr("y", 3049).attr("width", 2014).attr("height", 64)
  .attr("fill", "none").attr("stroke", "#f4f4fa").attr("stroke-width", 12);
b.append("rect").attr("x", 654).attr("y", 3316).attr("width", 2016).attr("height", 62)
  .attr("fill", "none").attr("stroke", "#f4f4fa").attr("stroke-width", 12);
drawArches(b, archesB);
box(b, 1402, 2015, 3020, 3146, goafNames[0]);
box(b, 1410, 2022, 3289, 3420, goafNames[1]);

drawStrata(b, 2709, 3150, 1862, 3478, strataB);
[[0, 2781, 3021, 1860, 1950], [1, 2728, 3152, 1973, 2101], [2, 2777, 3015, 2347, 2471], [3, 2783, 3156, 2705, 2830],
 [4, 2777, 3049, 2986, 3116], [5, 2767, 3146, 3129, 3257], [6, 2767, 3022, 3297, 3429]]
  .forEach(r => box(b, r[1], r[2], r[3], r[4], strataNames[r[0]]));

whiteLine(b, 460, 1880, 636, 1880, 7);
whiteLine(b, 457, 2665, 621, 2665, 6);
whiteLine(b, 457, 3379, 621, 3379, 6);
whiteLine(b, 533, 1880, 533, 3379, 6);
box(b, 497, 597, 2210, 2338, zoneNames[1], 108);
box(b, 488, 592, 2930, 3059, zoneNames[0], 108);
box(b, 1562, 1675, 2343, 2470, zoneNames[2], 108);
box(b, 1561, 1674, 2839, 2968, zoneNames[3], 108);

drawHeightArrow(b, 2513, 2455, 2562, 1881, 3372);
box(b, 2394, 2681, 2111, 2242, heightLabels[1]);

drawLegend(b, 177, [2549, 2720, 2836, 2948, 3067, 3181, 3296, 3477], 246, 458, 2569, 3485, 265,
  [2635, 2747, 2848, 2965, 3077, 3188, 3292, 3405]);
axisLabel(b, 75, 3022);
captionText(b, 1680, 3595, captions[1]);
</script>
</body>
</html>
